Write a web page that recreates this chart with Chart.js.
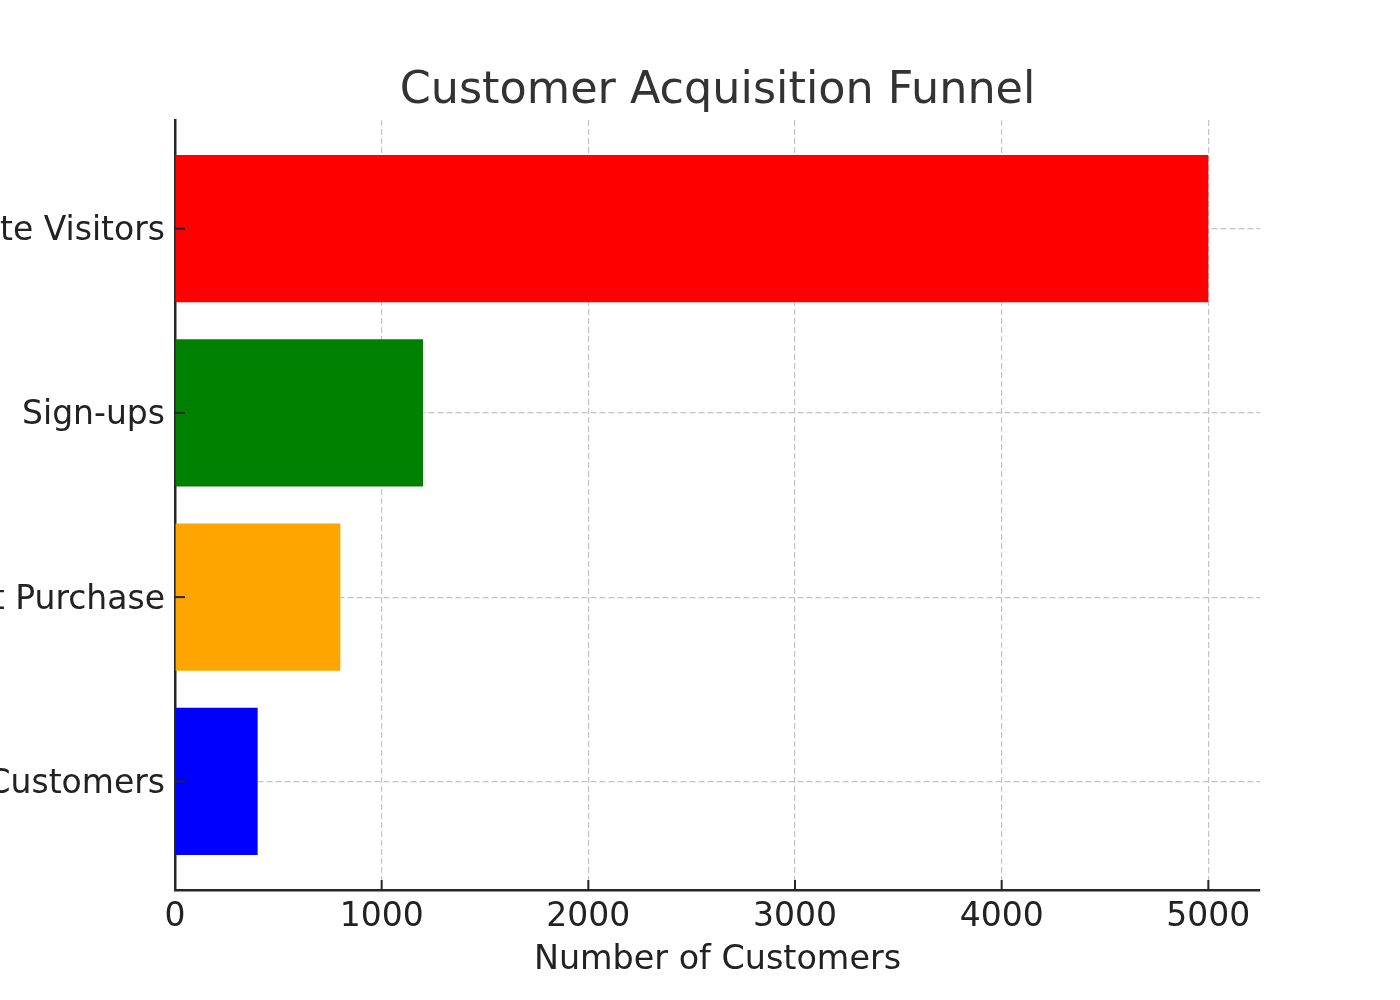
<!DOCTYPE html>
<html>
<head>
<meta charset="utf-8">
<title>Customer Acquisition Funnel</title>
<script src="https://cdn.jsdelivr.net/npm/chart.js@4"></script>
<style>
  body { margin: 0; background: #fff; }
</style>
</head>
<body>
<canvas id="funnelChart" width="1400" height="1000"></canvas>
<script>
const categories = ["Website Visitors", "Sign-ups", "First Purchase", "Repeat Customers"];
const customers = [5000, 1200, 800, 400];
const barColors = ["#ff0000", "#008000", "#ffa500", "#0000ff"];
const xTicks = [0, 1000, 2000, 3000, 4000, 5000];

// matplotlib style ticks pointing into the plot
const innerTicks = {
  id: "innerTicks",
  afterDraw(chart) {
    const { ctx, chartArea, scales } = chart;
    ctx.save();
    ctx.strokeStyle = "#262626";
    ctx.lineWidth = 2;
    xTicks.forEach(v => {
      const x = scales.x.getPixelForValue(v);
      ctx.beginPath();
      ctx.moveTo(x, chartArea.bottom);
      ctx.lineTo(x, chartArea.bottom - 10);
      ctx.stroke();
    });
    categories.forEach((c, i) => {
      const y = scales.y.getPixelForValue(i);
      ctx.beginPath();
      ctx.moveTo(chartArea.left, y);
      ctx.lineTo(chartArea.left + 10, y);
      ctx.stroke();
    });
    ctx.restore();
  }
};

function renderChart() {
  const ctx = document.getElementById("funnelChart").getContext("2d");
  new Chart(ctx, {
    type: "bar",
    data: {
      datasets: [{
        data: customers.map((v, i) => ({ x: v, y: i })),
        backgroundColor: barColors,
        borderWidth: 0,
        barPercentage: 0.8,
        categoryPercentage: 1.0
      }]
    },
    options: {
      indexAxis: "y",
      responsive: false,
      animation: false,
      layout: { padding: { left: 0, right: 140, top: 0, bottom: 0 } },
      plugins: {
        legend: { display: false },
        tooltip: { enabled: false },
        title: {
          display: true,
          text: "Customer Acquisition Funnel",
          fullSize: false,
          color: "#333333",
          font: { family: "DejaVu Sans", size: 44.5, weight: "normal", lineHeight: 1.2 },
          padding: { top: 65, bottom: 1.6 }
        }
      },
      scales: {
        x: {
          type: "linear",
          min: 0,
          max: 5250,
          z: 1,
          afterBuildTicks: s => { s.ticks = xTicks.map(v => ({ value: v })); },
          afterFit: s => { s.height = 110; },
          grid: {
            color: "#c4c4c4",
            lineWidth: 1.2,
            drawTicks: false
          },
          border: { display: true, color: "#262626", width: 2.5, dash: [6, 3] },
          ticks: {
            padding: 8,
            color: "#222222",
            font: { family: "DejaVu Sans", size: 33 },
            callback: v => String(v)
          },
          title: {
            display: true,
            text: "Number of Customers",
            color: "#222222",
            font: { family: "DejaVu Sans", size: 33.4, lineHeight: 1.2 },
            padding: { top: 0, bottom: 20 }
          }
        },
        y: {
          type: "linear",
          reverse: true,
          offset: false,
          min: -0.59,
          max: 3.59,
          z: 1,
          afterBuildTicks: s => { s.ticks = categories.map((c, i) => ({ value: i })); },
          afterFit: s => { s.width = 175; },
          grid: {
            color: "#c4c4c4",
            lineWidth: 1.2,
            offset: false,
            drawTicks: false
          },
          border: { display: true, color: "#262626", width: 2.5, dash: [6, 3] },
          ticks: {
            padding: 10,
            labelOffset: 3,
            color: "#222222",
            font: { family: "DejaVu Sans", size: 33 },
            callback: v => categories[v]
          }
        }
      }
    },
    plugins: [innerTicks]
  });
}

document.addEventListener("DOMContentLoaded", renderChart);
</script>
</body>
</html>
